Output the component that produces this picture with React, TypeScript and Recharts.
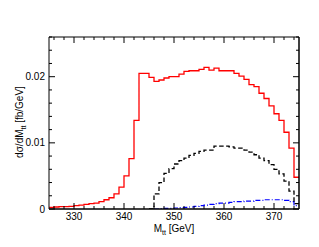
import { ComposedChart, Line, XAxis, YAxis } from 'recharts';

// histogram bins are 1 GeV wide, values are the bin contents (fb/GeV)
const redStart = 325;
const redValues = [
  0.00025, 0.0003, 0.00035, 0.00035, 0.0004, 0.0005, 0.0006, 0.0007, 0.0008, 0.0009,
  0.0011, 0.0014, 0.0017, 0.0023, 0.0033, 0.005, 0.0076, 0.0134, 0.0205, 0.0205,
  0.0199, 0.0193, 0.0195, 0.0198, 0.02, 0.02, 0.0204, 0.0208, 0.0209, 0.0209,
  0.0211, 0.0214, 0.021, 0.0213, 0.0209, 0.0209, 0.0209, 0.0205, 0.0201, 0.0196,
  0.0188, 0.0185, 0.0175, 0.0167, 0.0156, 0.0144, 0.0134, 0.0116, 0.0092, 0.0048,
];

const blackStart = 346;
const blackValues = [
  0.0023, 0.004, 0.0054, 0.0061, 0.0068, 0.0073, 0.0077, 0.0081, 0.0084, 0.0087,
  0.0089, 0.0089, 0.0095, 0.0095, 0.0095, 0.0094, 0.0092, 0.0092, 0.0089, 0.0086,
  0.0082, 0.0077, 0.0073, 0.0067, 0.006, 0.0053, 0.0042, 0.0027, 0.0008,
];

const blueStart = 347;
const blueValues = [
  0.00005, 0.0001, 0.0001, 0.00015, 0.0002, 0.00025, 0.0003, 0.0004, 0.0005, 0.0006,
  0.0007, 0.0008, 0.0009, 0.0009, 0.001, 0.0011, 0.0011, 0.0012, 0.0012, 0.0013,
  0.0013, 0.0014, 0.0014, 0.0014, 0.0014, 0.0013, 0.0011, 0.0005,
];

const xMajorTicks = [330, 340, 350, 360, 370];
const xMinorTicks = [326, 328, 332, 334, 336, 338, 342, 344, 346, 348, 352, 354, 356, 358, 362, 364, 366, 368, 372, 374];
const yMajorTicks = [0, 0.01, 0.02];
const yMinorTicks = [0.002, 0.004, 0.006, 0.008, 0.012, 0.014, 0.016, 0.018, 0.022, 0.024, 0.026];

const xTicks = [...xMajorTicks, ...xMinorTicks].sort((a, b) => a - b);
const yTicks = [...yMajorTicks, ...yMinorTicks].sort((a, b) => a - b);

const FONT = '"Liberation Sans", Arial, Helvetica, sans-serif';

// step table: one row per bin edge, the last edge repeats the last bin
const rows: { x: number; red?: number; black?: number; blue?: number }[] = [];
for (let x = 325; x <= 375; x++) {
  const row: { x: number; red?: number; black?: number; blue?: number } = { x };
  const ri = x - redStart;
  if (ri >= 0 && ri < redValues.length) row.red = redValues[ri];
  if (ri === redValues.length) row.red = redValues[redValues.length - 1];
  const bi = x - blackStart;
  if (bi === -1) row.black = 0;
  if (bi >= 0 && bi < blackValues.length) row.black = blackValues[bi];
  if (bi === blackValues.length) row.black = blackValues[blackValues.length - 1];
  const ui = x - blueStart;
  if (ui === -1) row.blue = 0;
  if (ui >= 0 && ui < blueValues.length) row.blue = blueValues[ui];
  if (ui === blueValues.length) row.blue = blueValues[blueValues.length - 1];
  rows.push(row);
}

const MAJOR = 6;
const MINOR = 3;

function BottomTick(props: any) {
  const { x, y, payload } = props;
  const major = xMajorTicks.includes(payload.value);
  return (
    <g>
      <line x1={x} y1={y} x2={x} y2={y - (major ? MAJOR : MINOR)} stroke="#000" strokeWidth={1} />
      {major && (
        <text x={x} y={y + 11} textAnchor="middle" fontSize={10} fontFamily={FONT} fill="#000">
          {payload.value}
        </text>
      )}
    </g>
  );
}

function TopTick(props: any) {
  const { x, y, payload } = props;
  const major = xMajorTicks.includes(payload.value);
  return <line x1={x} y1={y} x2={x} y2={y + (major ? MAJOR : MINOR)} stroke="#000" strokeWidth={1} />;
}

function LeftTick(props: any) {
  const { x, y, payload } = props;
  const major = yMajorTicks.includes(payload.value);
  return (
    <g>
      <line x1={x} y1={y} x2={x + (major ? MAJOR : MINOR)} y2={y} stroke="#000" strokeWidth={1} />
      {major && (
        <text x={x - 4} y={y + 3.6} textAnchor="end" fontSize={10} fontFamily={FONT} fill="#000">
          {String(payload.value)}
        </text>
      )}
    </g>
  );
}

function RightTick(props: any) {
  const { x, y, payload } = props;
  const major = yMajorTicks.includes(payload.value);
  return <line x1={x} y1={y} x2={x - (major ? MAJOR : MINOR)} y2={y} stroke="#000" strokeWidth={1} />;
}

function XTitle() {
  return (
    <text x={174} y={231.5} textAnchor="middle" fontSize={10} fontFamily={FONT} fill="#000">
      <tspan>M</tspan>
      <tspan dy={3} fontSize={7}>tt</tspan>
      <tspan dy={-3}> [GeV]</tspan>
    </text>
  );
}

function YTitle() {
  const bx = 22.5;
  const cy = 122;
  return (
    <text
      x={bx}
      y={cy}
      textAnchor="middle"
      fontSize={10}
      fontFamily={FONT}
      fill="#000"
      transform={`rotate(-90, ${bx}, ${cy})`}
    >
      <tspan>dσ/dM</tspan>
      <tspan dy={3} fontSize={7}>tt</tspan>
      <tspan dy={-3}> [fb/GeV]</tspan>
    </text>
  );
}

export default function App() {
  return (
    <div style={{ position: 'absolute', left: 0, top: 0, width: 319, height: 247, background: '#fff' }}>
      <ComposedChart width={319} height={247} data={rows} margin={{ top: 36, right: 19, bottom: 18, left: 9 }}>
        <XAxis
          dataKey="x"
          type="number"
          domain={[325, 375]}
          allowDataOverflow
          ticks={xTicks}
          interval={0}
          height={20}
          tickLine={false}
          tickSize={0}
          tickMargin={0}
          tick={BottomTick}
          axisLine={{ stroke: '#000', strokeWidth: 1.5 }}
          label={{ content: XTitle }}
        />
        <XAxis
          xAxisId="top"
          orientation="top"
          dataKey="x"
          type="number"
          domain={[325, 375]}
          allowDataOverflow
          ticks={xTicks}
          interval={0}
          height={1}
          tickLine={false}
          tickSize={0}
          tickMargin={0}
          tick={TopTick}
          axisLine={{ stroke: '#000', strokeWidth: 1 }}
        />
        <YAxis
          type="number"
          domain={[0, 0.026]}
          allowDataOverflow
          ticks={yTicks}
          interval={0}
          width={40}
          tickLine={false}
          tickSize={0}
          tickMargin={0}
          tick={LeftTick}
          axisLine={{ stroke: '#000', strokeWidth: 1 }}
          label={{ content: YTitle }}
        />
        <YAxis
          yAxisId="right"
          orientation="right"
          type="number"
          domain={[0, 0.026]}
          allowDataOverflow
          ticks={yTicks}
          interval={0}
          width={1}
          tickLine={false}
          tickSize={0}
          tickMargin={0}
          tick={RightTick}
          axisLine={{ stroke: '#000', strokeWidth: 1.5 }}
        />
        <Line
          dataKey="blue"
          type="stepAfter"
          stroke="#0000ff"
          strokeWidth={1.2}
          strokeDasharray="5 2 1 2"
          dot={false}
          activeDot={false}
          isAnimationActive={false}
        />
        <Line
          dataKey="black"
          type="stepAfter"
          stroke="#000"
          strokeWidth={1.3}
          strokeDasharray="4.5 2.5"
          dot={false}
          activeDot={false}
          isAnimationActive={false}
        />
        <Line
          dataKey="red"
          type="stepAfter"
          stroke="#ff0000"
          strokeWidth={1.3}
          dot={false}
          activeDot={false}
          isAnimationActive={false}
        />
      </ComposedChart>
    </div>
  );
}
